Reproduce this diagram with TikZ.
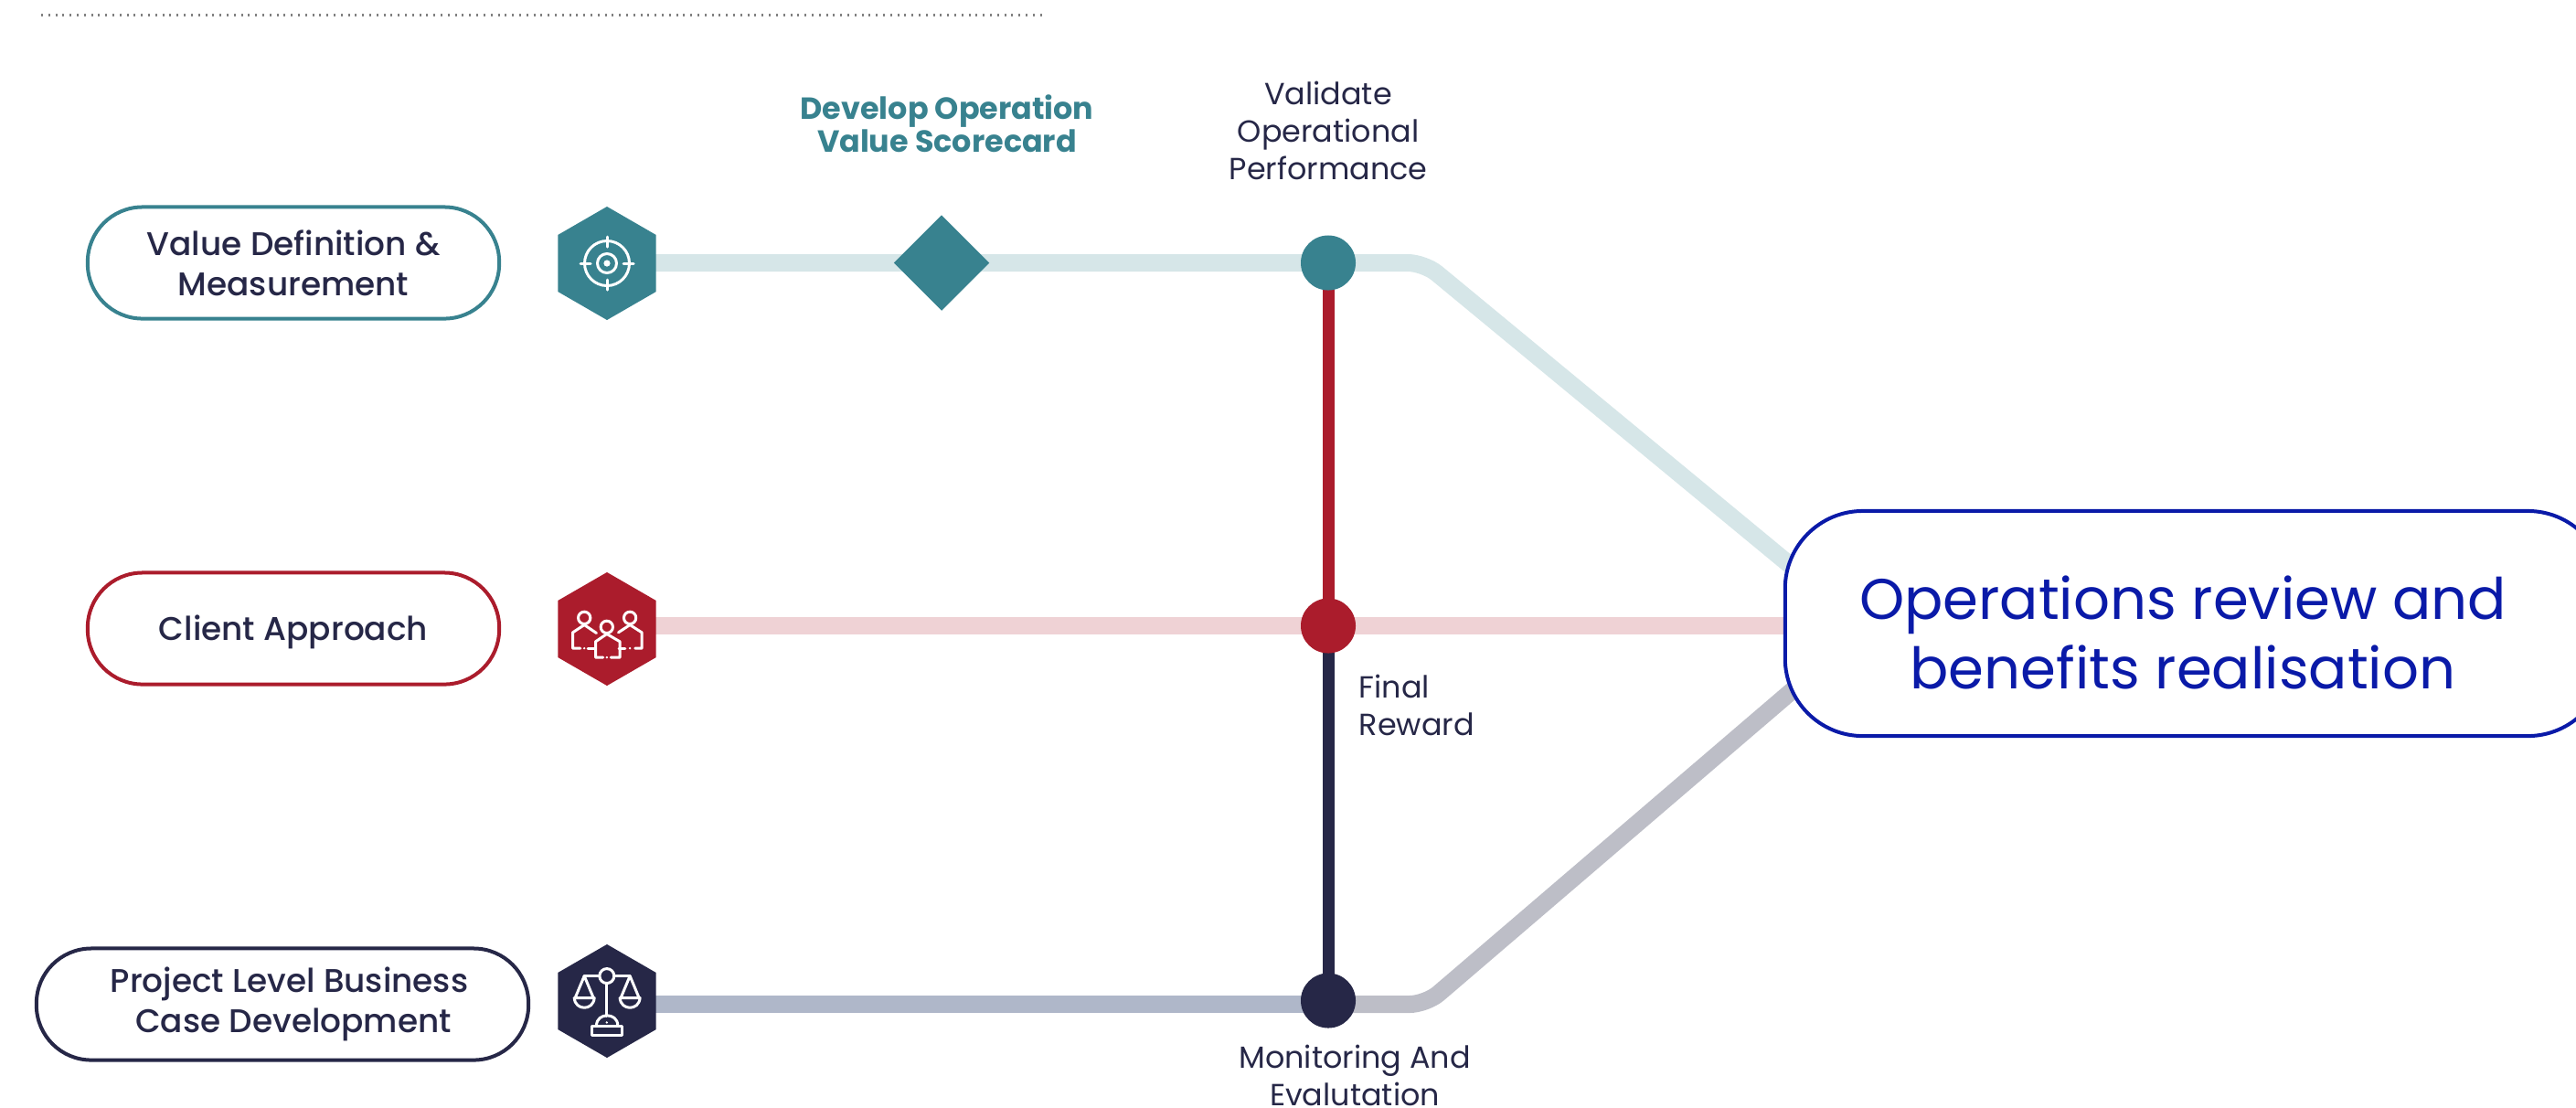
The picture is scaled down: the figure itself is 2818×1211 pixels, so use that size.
\documentclass[tikz,border=0pt]{standalone}
\usepackage{fontspec}
\setmainfont{Poppins}
\newfontfamily\medfont{Poppins Medium}
\usetikzlibrary{positioning}
\usetikzlibrary{backgrounds}
\usetikzlibrary{shapes.geometric}
\definecolor{tealc}{HTML}{38828F}
\definecolor{redc}{HTML}{AB1C2C}
\definecolor{navyc}{HTML}{262747}
\definecolor{bluec}{HTML}{0A1AA8}
\definecolor{tealband}{HTML}{D6E6E8}
\definecolor{redband}{HTML}{EFD2D5}
\definecolor{slateband}{HTML}{AFB7C9}
\definecolor{greyband}{HTML}{BDBEC7}
\tikzset{
pill/.style={draw=#1,fill=white,line width=0.04cm,rounded corners=0.6cm,minimum height=1.22cm,inner sep=0pt,align=center,text=navyc,font=\medfont\fontsize{10.2}{12.4}\selectfont},
hexa/.style={regular polygon,regular polygon sides=6,shape border rotate=30,fill=#1,minimum size=1.24cm,inner sep=0pt},
stopc/.style={circle,fill=#1,minimum size=0.6cm,inner sep=0pt},
band/.style={line width=0.19cm,draw=#1},
rail/.style={line width=0.13cm,draw=#1},
caption/.style={align=center,text=navyc,font=\fontsize{9.5}{11.7}\selectfont,inner sep=0pt},
icon/.style={draw=white,line width=0.03cm,line cap=round,line join=round}
}
\begin{document}
\begin{tikzpicture}[x=0.01cm,y=-0.01cm]
\useasboundingbox (0,0) rectangle (2818,1211);
\draw[gray,line width=0.03cm,dash pattern=on 0.02cm off 0.058cm] (45,16.5) -- (1140,16.5);
% left boxes
\node[pill=tealc,minimum width=4.5cm] (valuebox) at (321,287.5) {Value Definition \&\\Measurement};
\node[pill=redc,minimum width=4.5cm] (clientbox) at (321,687.5) {\rule{0pt}{0.35cm}Client Approach};
\node[pill=navyc,minimum width=5.38cm] (projectbox) at (309,1098.5) {\hspace*{0.15cm}Project Level Business\\\hspace*{0.24cm}Case Development};
% hexagons
\node[hexa=tealc] (hexvalue) at (664,288) {};
\node[hexa=redc] (hexclient) at (664,688) {};
\node[hexa=navyc] (hexproject) at (664,1095) {};
% stops
\node[diamond,aspect=1,fill=tealc,minimum width=1.05cm,minimum height=1.05cm,inner sep=0pt] (scorecard) at (1030,287.5) {};
\node[stopc=tealc] (stopvalue) at (1453,287.5) {};
\node[stopc=redc] (stopclient) at (1453,684.5) {};
\node[stopc=navyc] (stopproject) at (1453,1094.5) {};
% review box
\node[draw=bluec,fill=white,line width=0.04cm,rounded corners=0.85cm,minimum width=8.97cm,minimum height=2.46cm,inner sep=0pt] (review) at (2401.5,682) {};
\node[align=center,text=bluec,inner sep=0pt,font=\fontsize{17.8}{21.6}\selectfont] (reviewtext) at (2388,692) {Operations review and\\benefits realisation};
% labels
\node[caption,text=tealc,font=\bfseries\fontsize{9.5}{10.2}\selectfont] (scorelabel) at (1036,135) {Develop Operation\\Value Scorecard};
\node[caption] (validatelabel) at (1453,143) {Validate\\Operational\\Performance};
\node[caption,align=left,anchor=west] (finallabel) at (1486,771) {Final\\Reward};
\node[caption] (monitorlabel) at (1482,1176) {Monitoring And\\Evalutation};
% bands and rails
\coordinate (bendvalue) at (1558,287.5);
\coordinate (endvalue) at (1975,632);
\coordinate (bandproject) at (1453,1098.5);
\coordinate (bendproject) at (1560,1098.5);
\coordinate (endproject) at (1975,743);
\begin{scope}[on background layer]
\draw[band=tealband,rounded corners=0.18cm] (hexvalue |- bendvalue) -- (bendvalue) -- (endvalue);
\draw[band=redband] (hexclient |- stopclient) -- (stopclient -| review.center);
\draw[band=slateband] (hexproject |- bandproject) -- (bandproject);
\draw[band=greyband,rounded corners=0.18cm] (bandproject) -- (bendproject) -- (endproject);
\draw[rail=redc] (stopvalue.center) -- (stopclient.center);
\draw[rail=navyc] (stopclient.center) -- (stopproject.center);
\end{scope}
% target icon
\begin{scope}[shift={(hexvalue.center)}]
\draw[icon] (0,0) circle[radius=24.5];
\draw[icon] (0,0) circle[radius=10.5];
\fill[white] (0,0) circle[radius=3.6];
\foreach \a in {0,90,180,270} {
\draw[icon] (\a:18) -- (\a:29);
}
\end{scope}
% people icon
\begin{scope}[shift={(hexclient.center)},xshift=-0.84cm,yshift=0.76cm,x=0.0033333cm,y=-0.0033333cm]
\foreach \x/\y in {178/192,328/192,252/222} {
\draw[icon] (\x,\y) circle[radius=20];
}
\draw[icon] (218,242) -- (178,215) -- (140,240) -- (140,292) -- (165,292);
\draw[icon] (190,292) -- (212,292);
\draw[icon] (290,240) -- (328,215) -- (367,240) -- (367,292) -- (345,292);
\draw[icon] (312,292) -- (292,292);
\draw[icon] (240,322) -- (215,322) -- (215,270) -- (252,245) -- (295,270) -- (295,322) -- (265,322);
\foreach \x/\y in {178/292,328/292,252/322} {
\fill[white] (\x,\y) circle[radius=4];
}
\end{scope}
% scales icon
\begin{scope}[shift={(hexproject.center)},xshift=-0.84cm,yshift=0.75cm,x=0.0033333cm,y=-0.0033333cm]
\draw[icon] (252,143) circle[radius=24];
\draw[icon] (178,143) -- (228,143) (276,143) -- (328,143);
\draw[icon] (252,167) -- (252,275);
\foreach \x in {178,328} {
\draw[icon] (\x-30,215) -- (\x,143) -- (\x+30,215);
\draw[icon] (\x-33,215) -- (\x+33,215) .. controls (\x+30,258) and (\x-30,258) .. (\x-33,215);
}
\draw[icon] (218,306) .. controls (218,262) and (288,262) .. (288,306);
\fill[white] (252,296) circle[radius=4];
\draw[icon] (203,308) rectangle (302,338);
\end{scope}
\end{tikzpicture}
\end{document}
